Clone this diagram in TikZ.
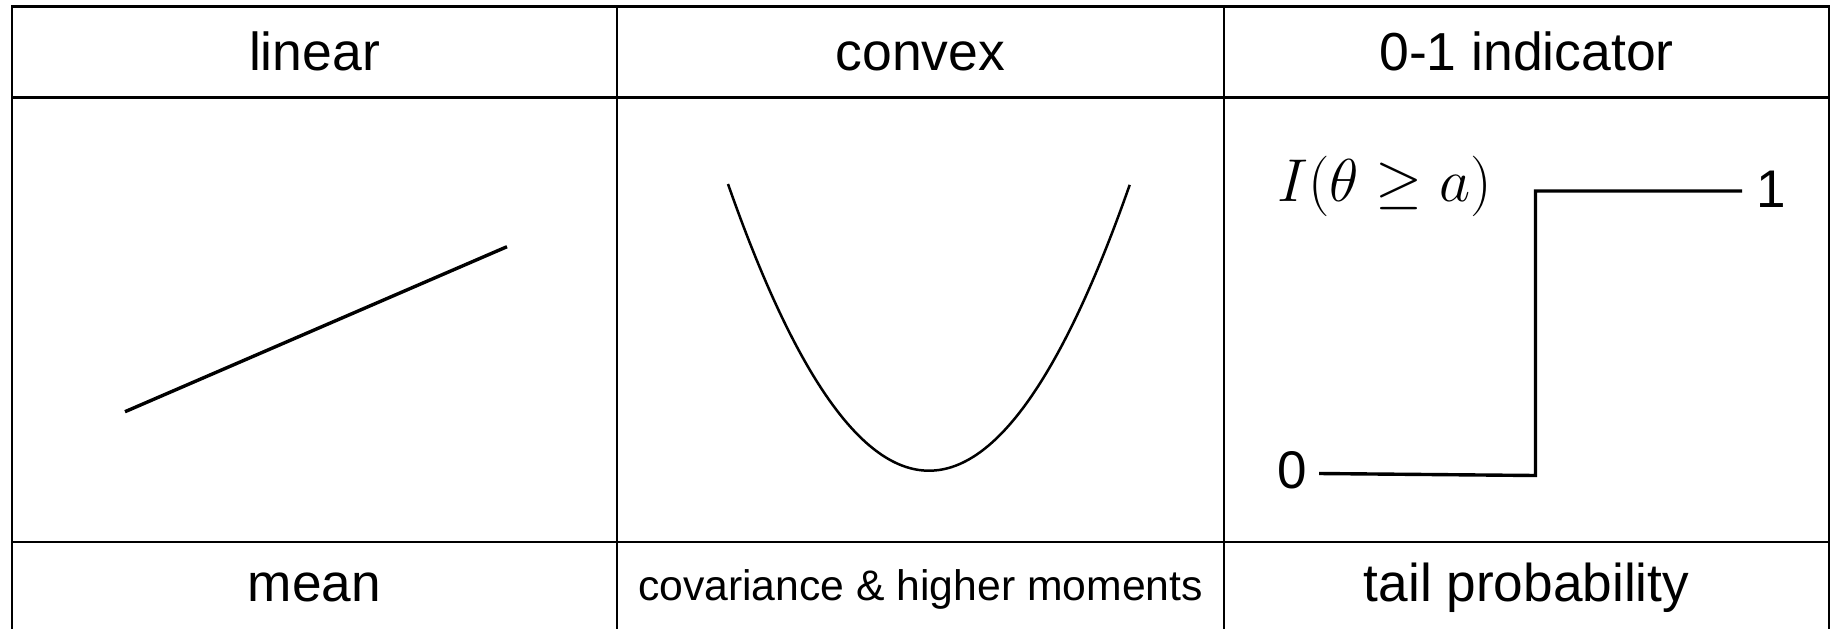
\RequirePackage{fix-cm}
\documentclass[tikz,border=0pt]{standalone}
\usepackage{fontspec}
\setmainfont{Liberation Sans}
\begin{document}
\begin{tikzpicture}[x=1pt,y=-1pt,
  gridline/.style={line width=2.4pt,black},
  thick3/.style={line width=3.4pt,black},
  thin2/.style={line width=2.5pt,black},
  hdr/.style={anchor=base,inner sep=0pt,font=\fontsize{53.5}{60}\selectfont},
  ftr/.style={anchor=base,inner sep=0pt,font=\fontsize{53.2}{60}\selectfont},
  ftrsmall/.style={anchor=base,inner sep=0pt,font=\fontsize{42.7}{50}\selectfont},
  lbl/.style={anchor=base,inner sep=0pt,font=\fontsize{53}{60}\selectfont}]
\useasboundingbox (0,0) rectangle (1830,629);
\fill[white] (0,0) rectangle (1830,629);
% table grid
\draw[gridline] (11,6.5) -- (1830,6.5);
\draw[gridline] (12,97.5) -- (1829,97.5);
\draw[gridline] (12,542) -- (1829,542);
\foreach \xx in {12,617,1224,1829} {\draw[gridline] (\xx,6.5) -- (\xx,629);}
% headers
\node[hdr] (h1) at (314.5,70.5) {linear};
\node[hdr] (h2) at (920.5,70.5) {convex};
\node[hdr] (h3) at (1526.5,70.5) {0-1 indicator};
% footers
\node[ftr] (f1) at (314.5,601.5) {mean};
\node[ftrsmall] (f2) at (920.5,600) {covariance \& higher moments};
\node[ftr] (f3) at (1526.5,601.5) {tail probability};
% linear
\coordinate (la) at (125,411.7);
\coordinate (lb) at (507,246.7);
\draw[thick3] (la) -- (lb);
% convex
\draw[thin2] plot[domain=-1:1,samples=100,smooth] ({929+201*\x},{470.7-286.7*\x*\x});
% indicator
\node[anchor=base west,inner sep=0pt,font=\fontsize{60.5}{66}\selectfont] (ind) at (1277,201) {$I(\theta\geq a)$};
\node[lbl] (zero) at (1292,488) {0};
\node[lbl] (one) at (1771.5,207) {1};
\coordinate (s0) at (1319,473.5);
\coordinate (s1) at (1535.5,475.5);
\coordinate (s2) at (1535.5,191);
\coordinate (s3) at (1742,191);
\draw[thick3] (s0) -- (s1) -- (s2) -- (s3);
\end{tikzpicture}
\end{document}
